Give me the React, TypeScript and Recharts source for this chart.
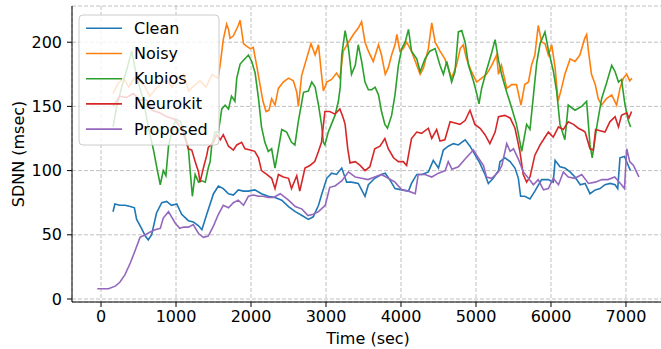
import React from 'react';
import { LineChart, Line, XAxis, YAxis, CartesianGrid } from 'recharts';

// [time (sec), SDNN (msec)]
const clean: [number, number][] = [
  [160, 68], [185, 74], [250, 73], [320, 73], [390, 72], [445, 71], [475, 62], [540, 55], [590, 49], [630, 46],
  [675, 50], [740, 67], [810, 75], [875, 76], [940, 73], [1010, 74], [1075, 66], [1165, 61], [1230, 60], [1300, 57],
  [1345, 54], [1410, 66], [1500, 82], [1565, 88], [1630, 86], [1700, 82], [1765, 81], [1830, 85], [1900, 84], [1965, 84],
  [2050, 85], [2140, 82], [2230, 80], [2320, 79], [2410, 77], [2500, 72], [2590, 68], [2680, 65], [2765, 62], [2830, 64],
  [2900, 73], [2940, 81], [3010, 94], [3075, 98], [3140, 97], [3210, 102], [3275, 91], [3340, 91], [3430, 90], [3520, 80],
  [3565, 89], [3650, 94], [3740, 97], [3790, 98], [3850, 93], [3920, 86], [4010, 85], [4100, 84], [4140, 90], [4210, 97],
  [4280, 97], [4365, 99], [4430, 108], [4500, 102], [4565, 116], [4630, 119], [4700, 121], [4765, 120], [4855, 124], [4920, 119],
  [4990, 112], [5050, 106], [5120, 97], [5165, 90], [5230, 94], [5300, 100], [5320, 107], [5385, 110], [5455, 107], [5520, 102],
  [5565, 94], [5595, 80], [5650, 80], [5720, 78], [5785, 84], [5875, 93], [5965, 93], [6030, 91], [6055, 108], [6120, 103],
  [6185, 102], [6255, 99], [6320, 95], [6390, 89], [6455, 90], [6520, 82], [6590, 85], [6655, 86], [6720, 89], [6790, 90],
  [6855, 89], [6890, 86], [6920, 110], [6980, 111], [7030, 104], [7060, 100],
];

const noisy: [number, number][] = [
  [160, 160], [230, 168], [300, 172], [370, 165], [440, 172], [510, 170], [580, 166], [650, 158], [720, 163], [800, 168],
  [880, 170], [950, 165], [1020, 172], [1100, 175], [1170, 162], [1240, 166], [1320, 170], [1400, 165], [1480, 175], [1560, 172],
  [1590, 183], [1630, 202], [1675, 214], [1700, 210], [1720, 203], [1765, 205], [1830, 213], [1855, 217], [1900, 199], [1940, 197],
  [1990, 195], [2030, 196], [2075, 182], [2120, 167], [2160, 154], [2200, 146], [2240, 147], [2275, 156], [2320, 151], [2365, 164],
  [2430, 169], [2500, 172], [2565, 170], [2610, 161], [2632, 150], [2675, 174], [2740, 187], [2800, 199], [2855, 190], [2900, 198],
  [2940, 175], [2965, 162], [3010, 169], [3075, 171], [3140, 176], [3185, 172], [3230, 193], [3300, 200], [3365, 206], [3430, 211],
  [3475, 216], [3520, 200], [3565, 193], [3630, 185], [3700, 198], [3740, 190], [3790, 175], [3830, 180], [3875, 190], [3920, 198],
  [3945, 206], [3985, 193], [4030, 195], [4075, 200], [4140, 193], [4210, 182], [4255, 175], [4300, 180], [4365, 195], [4410, 215],
  [4455, 200], [4520, 193], [4585, 187], [4630, 180], [4675, 172], [4740, 182], [4790, 195], [4830, 198], [4875, 187], [4940, 177],
  [5010, 169], [5075, 172], [5140, 175], [5210, 182], [5275, 190], [5300, 175], [5340, 182], [5410, 164], [5475, 167], [5540, 167],
  [5600, 151], [5650, 167], [5700, 169], [5740, 182], [5785, 190], [5830, 213], [5875, 200], [5920, 199], [5965, 190], [6010, 198],
  [6055, 180], [6095, 154], [6140, 164], [6185, 175], [6255, 187], [6320, 185], [6385, 190], [6450, 203], [6475, 206], [6500, 193],
  [6540, 175], [6590, 167], [6630, 156], [6675, 151], [6740, 156], [6810, 159], [6875, 151], [6920, 164], [6965, 172], [7010, 175],
  [7050, 170], [7080, 172],
];

const kubios: [number, number][] = [
  [160, 134], [210, 150], [275, 165], [340, 178], [410, 193], [475, 173], [565, 155], [630, 134], [700, 116], [755, 99],
  [790, 89], [830, 100], [865, 96], [900, 119], [950, 132], [1000, 140], [1060, 138], [1110, 130], [1165, 117], [1190, 99],
  [1218, 80], [1255, 97], [1300, 91], [1345, 92], [1390, 91], [1430, 102], [1455, 107], [1475, 119], [1520, 130], [1565, 130],
  [1610, 148], [1655, 151], [1700, 148], [1740, 158], [1785, 154], [1810, 172], [1855, 183], [1900, 186], [1965, 190], [2010, 185],
  [2055, 176], [2100, 156], [2140, 134], [2185, 122], [2230, 115], [2275, 117], [2320, 102], [2365, 117], [2410, 132], [2475, 130],
  [2540, 122], [2585, 120], [2630, 138], [2700, 161], [2765, 162], [2810, 169], [2855, 165], [2900, 151], [2940, 136], [2965, 122],
  [2985, 120], [3030, 130], [3120, 143], [3165, 154], [3190, 165], [3210, 190], [3255, 209], [3300, 195], [3340, 175], [3390, 182],
  [3430, 198], [3475, 185], [3520, 169], [3565, 163], [3610, 163], [3655, 165], [3700, 159], [3740, 146], [3785, 136], [3820, 133],
  [3875, 143], [3920, 159], [3965, 182], [4010, 195], [4055, 200], [4100, 210], [4140, 193], [4210, 187], [4255, 177], [4320, 187],
  [4385, 193], [4455, 195], [4520, 182], [4565, 175], [4610, 185], [4675, 169], [4720, 177], [4765, 208], [4810, 209], [4855, 200],
  [4900, 182], [4965, 170], [5010, 160], [5040, 152], [5075, 164], [5140, 178], [5210, 192], [5255, 202], [5300, 186], [5345, 174],
  [5410, 161], [5475, 149], [5540, 136], [5610, 115], [5675, 136], [5720, 132], [5765, 158], [5810, 184], [5855, 199], [5920, 208],
  [5965, 194], [6030, 178], [6075, 162], [6120, 136], [6185, 124], [6230, 151], [6320, 147], [6410, 150], [6475, 154], [6520, 120],
  [6550, 110], [6610, 134], [6675, 156], [6740, 168], [6810, 182], [6855, 177], [6900, 169], [6940, 171], [6985, 152], [7030, 139],
  [7062, 134],
];

const neurokit: [number, number][] = [
  [160, 150], [250, 158], [340, 157], [430, 160], [520, 155], [610, 155], [680, 147], [780, 145], [880, 142], [980, 140],
  [1080, 132], [1120, 125], [1165, 117], [1210, 116], [1255, 107], [1300, 99], [1320, 91], [1365, 102], [1410, 112], [1430, 118],
  [1500, 122], [1540, 128], [1590, 124], [1630, 128], [1700, 119], [1765, 116], [1810, 120], [1875, 122], [1920, 117], [1990, 116],
  [2050, 115], [2100, 110], [2140, 100], [2210, 97], [2275, 94], [2320, 86], [2365, 97], [2430, 95], [2500, 94], [2540, 86],
  [2610, 96], [2650, 84], [2720, 102], [2785, 104], [2850, 107], [2900, 115], [2940, 122], [2985, 146], [3050, 146], [3120, 144],
  [3185, 148], [3230, 141], [3255, 136], [3290, 117], [3320, 106], [3390, 107], [3455, 104], [3520, 100], [3585, 103], [3650, 117],
  [3720, 119], [3785, 125], [3830, 117], [3900, 110], [3965, 107], [4030, 107], [4075, 104], [4100, 112], [4140, 125], [4210, 130],
  [4275, 129], [4365, 133], [4410, 125], [4475, 132], [4520, 123], [4585, 124], [4655, 138], [4720, 137], [4785, 136], [4855, 139],
  [4920, 147], [4985, 136], [5055, 133], [5120, 128], [5185, 121], [5255, 130], [5300, 142], [5385, 143], [5455, 141], [5520, 133],
  [5585, 115], [5630, 97], [5675, 91], [5720, 95], [5785, 112], [5855, 120], [5920, 126], [5965, 130], [6030, 126], [6100, 134],
  [6165, 132], [6230, 138], [6300, 136], [6365, 133], [6430, 131], [6455, 130], [6520, 117], [6565, 116], [6595, 132], [6655, 131],
  [6720, 130], [6785, 138], [6855, 142], [6900, 134], [6940, 143], [7010, 145], [7040, 141], [7075, 146],
];

const proposed: [number, number][] = [
  [-50, 8], [0, 8], [100, 8], [190, 10], [250, 13], [320, 19], [390, 28], [450, 37], [520, 48], [590, 50],
  [650, 52], [720, 54], [790, 55], [830, 63], [900, 68], [990, 59], [1050, 55], [1100, 56], [1165, 56], [1230, 58],
  [1300, 51], [1365, 48], [1430, 49], [1500, 57], [1565, 66], [1630, 73], [1700, 71], [1765, 75], [1830, 77], [1900, 73],
  [1965, 80], [2030, 81], [2100, 80], [2160, 80], [2230, 79], [2300, 79], [2390, 82], [2500, 77], [2590, 72], [2680, 70],
  [2760, 65], [2830, 66], [2900, 68], [2990, 73], [3050, 87], [3120, 88], [3210, 92], [3300, 99], [3390, 95], [3475, 94],
  [3560, 93], [3650, 95], [3740, 97], [3830, 94], [3920, 91], [4010, 85], [4100, 84], [4190, 82], [4230, 97], [4320, 97],
  [4410, 95], [4500, 98], [4590, 100], [4630, 107], [4680, 101], [4765, 103], [4855, 109], [4965, 116], [5030, 110], [5100, 104],
  [5140, 95], [5210, 94], [5300, 99], [5345, 104], [5410, 121], [5455, 115], [5500, 117], [5565, 109], [5630, 99], [5700, 94],
  [5765, 89], [5830, 93], [5900, 85], [5965, 86], [6030, 94], [6100, 89], [6165, 99], [6230, 95], [6320, 94], [6410, 97],
  [6500, 90], [6590, 91], [6680, 93], [6760, 93], [6850, 95], [6940, 89], [6980, 86], [7010, 117], [7050, 107], [7100, 104],
  [7140, 99], [7173, 95],
];

const xTicks = [0, 1000, 2000, 3000, 4000, 5000, 6000, 7000];
const yTicks = [0, 50, 100, 150, 200];

const series = [
  { name: 'Clean', color: '#1f77b4', points: clean },
  { name: 'Noisy', color: '#ff7f0e', points: noisy },
  { name: 'Kubios', color: '#2ca02c', points: kubios },
  { name: 'Neurokit', color: '#d62728', points: neurokit },
  { name: 'Proposed', color: '#9467bd', points: proposed },
];

const FONT = '"DejaVu Sans", sans-serif';

const LegendBox = () => (
  <svg width={142} height={132} style={{ position: 'absolute', left: 78, top: 14 }}>
    <rect x={1} y={1} width={140} height={130} rx={4} fill="rgba(255,255,255,0.8)" stroke="#cccccc" strokeWidth={1} />
    {series.map((s, i) => (
      <g key={s.name}>
        <line x1={8} x2={44} y1={14.3 + i * 25.2} y2={14.3 + i * 25.2} stroke={s.color} strokeWidth={1.6} />
        <text x={56} y={14.3 + i * 25.2} dominantBaseline="central" fontSize={16} fill="#000" fontFamily={FONT}>
          {s.name}
        </text>
      </g>
    ))}
  </svg>
);

export default function App() {
  return (
    <div style={{ position: 'absolute', left: 0, top: 0, width: 661, height: 349, overflow: 'hidden', background: '#fff', fontFamily: FONT }}>
      <LineChart width={667} height={349} margin={{ top: 6, right: 0, bottom: 0, left: 0 }}>
        <CartesianGrid stroke="#b0b0b0" strokeDasharray="4 2" strokeWidth={0.8} />
        <XAxis
          type="number"
          dataKey="t"
          domain={[-387, 7547]}
          allowDataOverflow
          ticks={xTicks}
          height={47}
          tickSize={5}
          tickMargin={4}
          stroke="#000"
          tick={{ fontSize: 16, fill: '#000', fontFamily: FONT }}
          label={{
            content: () => (
              <text x={368} y={338} textAnchor="middle" dominantBaseline="central" fontSize={16} fill="#000" fontFamily={FONT}>
                Time (sec)
              </text>
            ),
          }}
        />
        <YAxis
          type="number"
          domain={[-2.34, 228.2]}
          allowDataOverflow
          ticks={yTicks}
          width={72}
          tickSize={5}
          tickMargin={5}
          stroke="#000"
          tick={{ fontSize: 16, fill: '#000', fontFamily: FONT }}
          label={{
            content: () => (
              <text x={18} y={154} transform="rotate(-90 18 154)" textAnchor="middle" dominantBaseline="central" fontSize={16} fill="#000" fontFamily={FONT}>
                SDNN (msec)
              </text>
            ),
          }}
        />
        {series.map((s) => (
          <Line
            key={s.name}
            data={s.points.map(([t, v]) => ({ t, v }))}
            dataKey="v"
            name={s.name}
            type="linear"
            stroke={s.color}
            strokeWidth={1.6}
            dot={false}
            isAnimationActive={false}
          />
        ))}
      </LineChart>
      <LegendBox />
    </div>
  );
}
